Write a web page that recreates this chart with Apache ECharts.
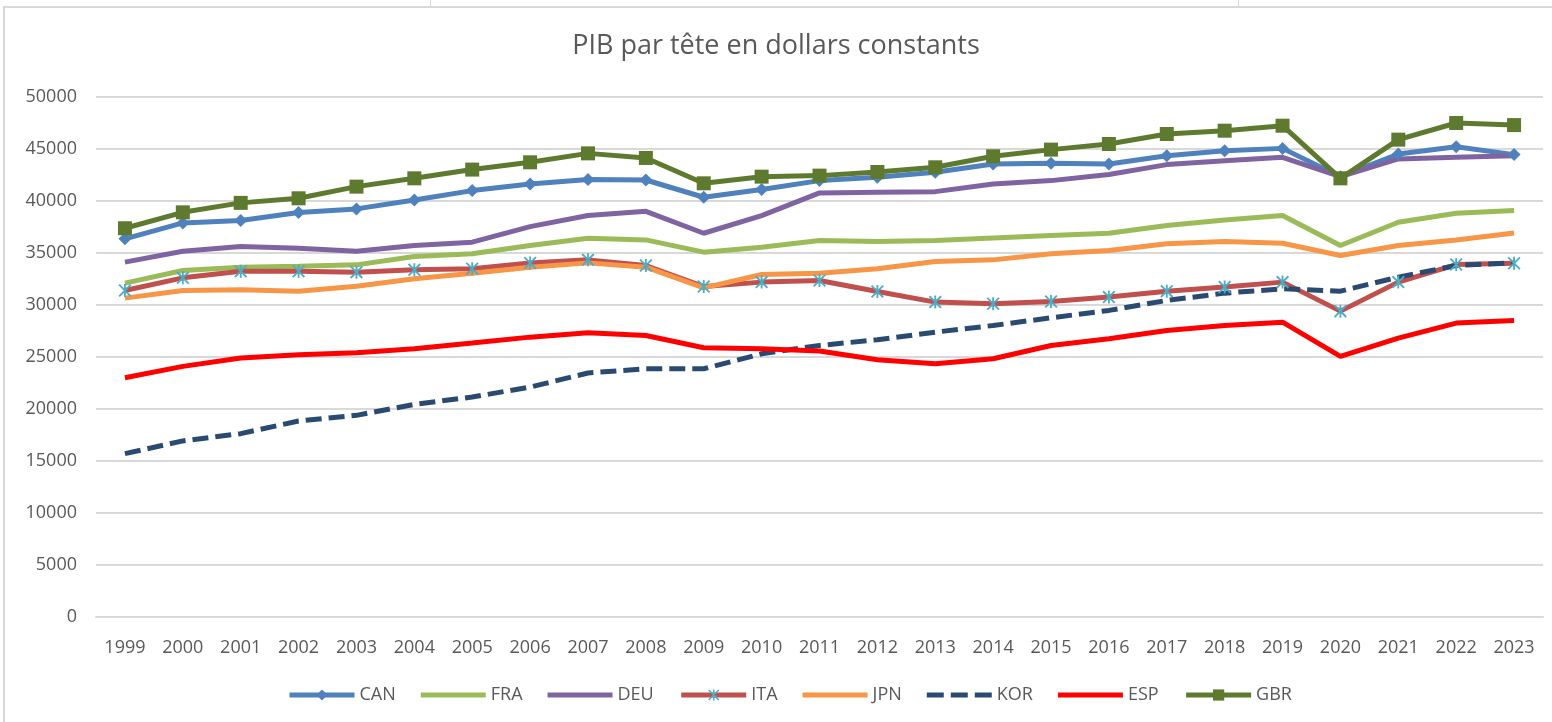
<!DOCTYPE html>
<html>
<head>
<meta charset="utf-8">
<title>PIB par tête</title>
<script src="https://cdn.jsdelivr.net/npm/echarts@6/dist/echarts.min.js"></script>
<style>
  html, body { margin: 0; padding: 0; background: #fff; }
  #chart { width: 1552px; height: 722px; }
</style>
</head>
<body>
<div id="chart"></div>
<script>
// PIB par tête, dollars constants
var years = ['1999', '2000', '2001', '2002', '2003', '2004', '2005', '2006', '2007', '2008', '2009', '2010',
  '2011', '2012', '2013', '2014', '2015', '2016', '2017', '2018', '2019', '2020', '2021', '2022', '2023']

var can = [36360, 37890, 38120, 38890, 39240, 40100, 41000, 41640, 42060, 42020, 40360, 41100,
  41960, 42280, 42760, 43560, 43620, 43560, 44360, 44840, 45060, 42340, 44520, 45220, 44460]
var fra = [32100, 33320, 33640, 33730, 33860, 34660, 34920, 35720, 36420, 36260, 35080, 35560,
  36200, 36100, 36200, 36450, 36680, 36900, 37640, 38180, 38600, 35720, 37960, 38820, 39080]
var deu = [34120, 35170, 35620, 35460, 35170, 35720, 36040, 37540, 38600, 39010, 36900, 38600,
  40780, 40840, 40900, 41640, 41960, 42540, 43500, 43880, 44200, 42340, 44040, 44200, 44360]
var ita = [31400, 32610, 33250, 33250, 33160, 33380, 33480, 34050, 34340, 33800, 31780, 32200,
  32360, 31300, 30280, 30120, 30340, 30760, 31330, 31720, 32200, 29410, 32200, 33890, 34020]
var jpn = [30660, 31400, 31460, 31330, 31810, 32520, 33060, 33640, 34050, 33640, 31650, 32930,
  33060, 33480, 34180, 34340, 34920, 35240, 35880, 36100, 35940, 34760, 35720, 36260, 36930]
var kor = [15710, 16930, 17630, 18850, 19390, 20450, 21150, 22110, 23460, 23870, 23870, 25310,
  26110, 26660, 27390, 28030, 28770, 29480, 30440, 31140, 31560, 31330, 32680, 33800, 34050]
var esp = [23010, 24100, 24900, 25220, 25410, 25790, 26340, 26910, 27330, 27070, 25890, 25790,
  25570, 24740, 24350, 24830, 26110, 26750, 27550, 28030, 28350, 25060, 26820, 28260, 28510]
var gbr = [37380, 38910, 39820, 40260, 41380, 42180, 43020, 43720, 44580, 44140, 41700, 42340,
  42440, 42790, 43240, 44300, 44940, 45480, 46440, 46760, 47240, 42180, 45900, 47500, 47300]

var font = '"Open Sans", "Noto Sans", sans-serif'
var grey = '#595959'
// asterisque façon Excel
var starPath = 'path://M4.3,0L5.7,0L5.7,10L4.3,10Z M0,1L1,0L10,9L9,10Z M9,0L10,1L1,10L0,9Z'
// icônes de légende sans marqueur
var plainIcon = 'path://M0,0L65,0L65,5L0,5Z'
var dashIcon = 'path://M0,0L17,0L17,5L0,5Z M24,0L41,0L41,5L24,5Z M48,0L65,0L65,5L48,5Z'

function line (name, data, color, extra) {
  var s = {
    name: name,
    type: 'line',
    data: data,
    symbol: 'none',
    lineStyle: { color: color, width: 5 },
    itemStyle: { color: color, borderWidth: 0 },
    emphasis: { disabled: true }
  }
  return Object.assign(s, extra || {})
}

var myChart = echarts.init(document.getElementById('chart'))

myChart.setOption({
  animation: false,
  backgroundColor: '#fff',
  textStyle: { fontFamily: font },
  title: {
    text: 'PIB par tête en dollars constants',
    left: 'center',
    top: 28,
    textStyle: { fontFamily: font, fontSize: 27, fontWeight: 'normal', color: grey }
  },
  graphic: [
    { type: 'rect', shape: { x: 4, y: 7, width: 1560, height: 730 }, style: { fill: null, stroke: '#d9d9d9', lineWidth: 2 }, silent: true },
    { type: 'line', shape: { x1: 430.5, y1: 0, x2: 430.5, y2: 6 }, style: { stroke: '#d9d9d9', lineWidth: 1 }, silent: true },
    { type: 'line', shape: { x1: 1238.5, y1: 0, x2: 1238.5, y2: 6 }, style: { stroke: '#d9d9d9', lineWidth: 1 }, silent: true }
  ],
  legend: {
    bottom: 13,
    left: 282,
    itemWidth: 65,
    itemHeight: 14,
    itemGap: 25,
    lineStyle: { width: 5 },
    textStyle: { fontFamily: font, fontSize: 18, color: grey },
    data: [
      'CAN',
      { name: 'FRA', icon: plainIcon },
      { name: 'DEU', icon: plainIcon },
      'ITA',
      { name: 'JPN', icon: plainIcon },
      { name: 'KOR', icon: dashIcon },
      { name: 'ESP', icon: plainIcon },
      'GBR'
    ]
  },
  grid: { left: 96, right: 9, top: 97, bottom: 105, containLabel: false, outerBoundsMode: 'none' },
  xAxis: {
    type: 'category',
    data: years,
    boundaryGap: true,
    axisTick: { show: false },
    axisLine: { lineStyle: { color: '#d9d9d9', width: 2 } },
    axisLabel: { color: grey, fontSize: 18, fontFamily: font, margin: 22, interval: 0 }
  },
  yAxis: {
    type: 'value',
    min: 0,
    max: 50000,
    interval: 5000,
    axisLine: { show: false },
    axisTick: { show: false },
    axisLabel: {
      color: grey,
      fontSize: 18,
      fontFamily: font,
      margin: 19,
      formatter: function (v) { return String(v) }
    },
    splitLine: { lineStyle: { color: '#d9d9d9', width: 2 } }
  },
  series: [
    line('CAN', can, '#4f81bd', { symbol: 'diamond', symbolSize: 13 }),
    line('FRA', fra, '#9bbb59'),
    line('DEU', deu, '#8064a2'),
    line('ITA', ita, '#c0504d', { symbol: starPath, symbolSize: 13, itemStyle: { color: '#4bacc6', borderWidth: 0 } }),
    line('JPN', jpn, '#f79646'),
    line('KOR', kor, '#2b4a72', { lineStyle: { color: '#2b4a72', width: 5, type: [16, 7] } }),
    line('ESP', esp, '#ff0000'),
    line('GBR', gbr, '#5e7a2e', { symbol: 'rect', symbolSize: 14 })
  ]
})
</script>
</body>
</html>
